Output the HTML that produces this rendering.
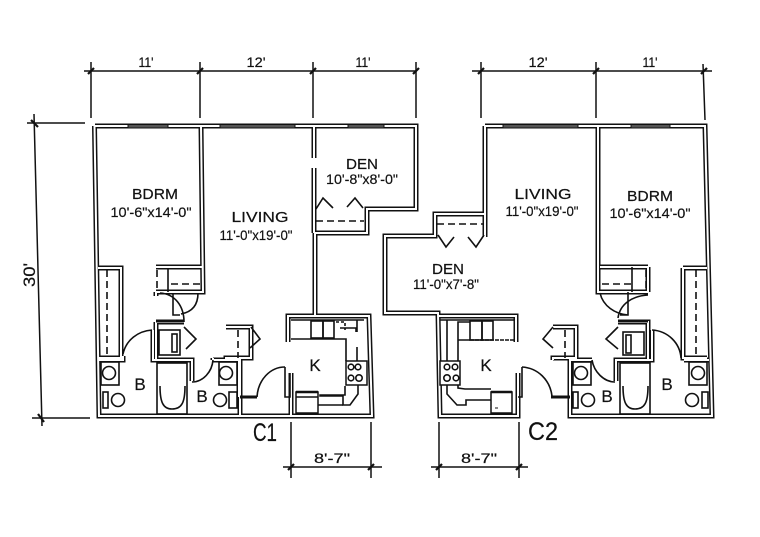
<!DOCTYPE html>
<html><head><meta charset="utf-8"><style>
html,body{margin:0;padding:0;background:#fff}
svg{display:block}
text{font-family:"Liberation Sans",sans-serif;fill:#111;text-anchor:middle;stroke:#111;stroke-width:.2}
.r{font-size:15px}
.d{font-size:14px}
.k{font-size:17px}
.c{font-size:25px}
.t{fill:none;stroke:#111;stroke-width:1.6}
.m{fill:none;stroke:#111;stroke-width:1.5}
.f{fill:#fff;stroke:#111;stroke-width:1.5}
.da{fill:none;stroke:#111;stroke-width:1.6;stroke-dasharray:7 4}
.w{fill:#555;stroke:#111;stroke-width:1}
</style></head><body>
<svg width="760" height="537" viewBox="0 0 760 537" xmlns="http://www.w3.org/2000/svg">
<rect width="760" height="537" fill="#fff"/>
<defs>
<path id="walls" d="M95 126H416V209H367V233H315V316M314 126V158M314 168V233M94.5 126L99 416H372L369 316H288V342M291 416V373M201 126L203 292H156M156 267H203M156 292V296M98 268H121V358H98M98 360H123V356M153 330V360H192V381M213 360H240V416M213 360V358M156 322H184M156 322V360M226 327H251V358H226V360M239 360V397
M485 126H705L712 416H570V360H592M485 126V237M485 214H435V236H385V313H438L440 416H518V373M438 316H516V342M598 126V292H648M600 267H648M648 267V292M683 268H707M683 268V358H707M684 360H709M652 330V360H616V381M618 322H648V360M553 327H576V358H553V360M570 360V397"/>
</defs>
<g fill="none">
<use href="#walls" stroke="#111" stroke-width="5"/>
<use href="#walls" stroke="#fff" stroke-width="2"/>
</g>
<!-- windows -->
<rect class="w" x="128" y="124.500" width="40" height="3.500"/>
<rect class="w" x="220" y="124.500" width="75" height="3.500"/>
<rect class="w" x="348" y="124.500" width="36" height="3.500"/>
<rect class="w" x="503" y="124.500" width="75" height="3.500"/>
<rect class="w" x="631" y="124.500" width="39" height="3.500"/>
<!-- dimensions -->
<g class="m">
<path d="M84 71H416M91 62V118M200 62V118M313 62V118M416 62V118"/>
<path d="M472 71H712M481 62V118M596 62V118M703 64L705 120"/>
<path d="M27 123H85M34 114L42 426M32 418H90"/>
<path d="M283 467H382M291 422V478M371 422V478"/>
<path d="M431 467H528M439 422V478M519 422V478"/>
</g>
<g stroke="#111" stroke-width="2.200" fill="none">
<path d="M88 74L94 68M197 74L203 68M310 74L316 68M413 74L419 68M478 74L484 68M593 74L599 68M701 74L707 68"/>
<path d="M31 120L38 127M38 414L44 422M288 470L294 464M368 470L374 464M436 470L442 464M516 470L522 464"/>
</g>
<!-- C1 left bath/closets -->
<path class="da" d="M107 270V358M157 270V290M171 284H200M238 330V358"/>
<path class="t" d="M168 268V292M173 294V315H180M123 354C126 340 138 331 152 330M160 293C175 294 184 306 184 322M198 293C198 305 192 312 181 314"/>
<path class="t" d="M192 382C203 382 212 372 213 360M184 327L196 339L186 349"/>
<path d="M156 321H184" stroke="#111" stroke-width="3"/>
<rect class="t" x="159" y="330" width="21" height="25"/>
<rect class="t" x="172" y="334" width="5" height="18"/>
<rect class="t" x="157" y="363" width="30" height="51"/>
<path class="t" d="M160 386C160 402 163 409 172 409C182 409 185 402 185 386"/>
<rect class="t" x="101" y="362" width="18" height="23"/>
<circle class="t" cx="109" cy="373" r="6.500"/>
<rect class="t" x="103" y="392" width="5" height="16"/>
<circle class="t" cx="118" cy="400" r="6.500"/>
<rect class="t" x="219" y="362" width="18" height="23"/>
<circle class="t" cx="226" cy="373" r="6.500"/>
<rect class="t" x="229" y="392" width="8" height="16"/>
<circle class="t" cx="220" cy="400" r="6.500"/>
<!-- C1 bifolds etc -->
<path class="t" d="M316 209L323 198L333 208M347 207L355 198L363 208"/>
<path class="da" d="M316 221H364"/>
<path class="t" d="M251 327L260 339L250 348"/>
<path d="M240 397H257" stroke="#111" stroke-width="3"/>
<path class="t" d="M285 367C270 367 258 380 257 397"/>
<path d="M285 367V397H290V373" stroke="#111" stroke-width="1.600" fill="none"/>
<!-- C1 kitchen -->
<path class="t" d="M291 320H364M291 339H346V361M357 347V361M358 385V394L350 405H343V396H320V395H345V386"/>
<rect class="t" x="311" y="321" width="12" height="17" stroke-width="2"/>
<rect class="t" x="323" y="321" width="11" height="17"/>
<path class="t" d="M336 322H345V330" stroke-dasharray="3 2"/>
<path class="t" d="M340 328H356V332M357 320V332"/>
<rect class="f" x="346" y="361" width="21" height="24"/>
<circle class="t" cx="351" cy="367" r="2.800"/><circle class="t" cx="358" cy="367" r="2.800"/>
<circle class="t" cx="351" cy="378" r="2.800"/><circle class="t" cx="359" cy="378" r="3.200"/>
<rect class="f" x="296" y="392" width="22" height="21"/>
<path d="M296 392H318" stroke="#111" stroke-width="2.500"/>
<path class="t" d="M318 405H343M296 397H318"/>
<!-- C2 den -->
<path class="t" d="M438 235L446 247L454 237M468 237L476 247L484 235"/>
<path class="da" d="M437 224H484"/>
<!-- C2 kitchen -->
<path class="t" d="M447 320V361M440 320H515M458 340V322H470M458 340H470"/>
<path class="t" d="M458 340V388L465 389H491" />
<path class="t" d="M447 385V394L457 405H466V400H491"/>
<path class="t" d="M470 340H514" stroke-dasharray="4 1"/>
<rect class="t" x="470" y="321" width="12" height="19" stroke-width="2"/>
<rect class="t" x="482" y="321" width="11" height="19" stroke-width="2"/>
<rect class="f" x="440" y="361" width="20" height="24"/>
<circle class="t" cx="447" cy="367" r="2.800"/><circle class="t" cx="455" cy="367" r="2.800"/>
<circle class="t" cx="447" cy="378" r="3.200"/><circle class="t" cx="456" cy="378" r="2.800"/>
<rect class="f" x="491" y="392" width="21" height="21"/>
<path d="M491 392H512" stroke="#111" stroke-width="2.500"/>
<path d="M495 408H498" stroke="#111" stroke-width="1"/>
<path class="t" d="M522 367C538 368 550 380 552 396"/>
<path d="M522 367V397H518" stroke="#111" stroke-width="1.600" fill="none"/>
<path d="M551 397H570" stroke="#111" stroke-width="3"/>
<path class="t" d="M553 327L543 339L553 348"/>
<path class="da" d="M565 330V358"/>
<!-- C2 bath -->
<path class="da" d="M696 270V358M646 270V292M602 284H632"/>
<path class="t" d="M632 267V292M628 292V315H620M600 293C603 306 615 314 628 315M648 295C632 296 620 304 618 318"/>
<path d="M618 321H648" stroke="#111" stroke-width="3"/>
<path class="t" d="M618 327L606 339L618 349M615 382C604 382 594 372 592 360M652 330C668 331 680 343 681 358"/>
<rect class="t" x="623" y="332" width="21" height="23"/>
<rect class="t" x="626" y="335" width="5" height="18"/>
<rect class="t" x="620" y="363" width="30" height="51"/>
<path class="t" d="M623 386C623 402 626 409 635 409C645 409 648 402 648 386"/>
<rect class="t" x="689" y="362" width="18" height="23"/>
<circle class="t" cx="698" cy="373" r="6.500"/>
<rect class="t" x="702" y="392" width="6" height="16"/>
<circle class="t" cx="692" cy="400" r="6.500"/>
<rect class="t" x="573" y="362" width="18" height="23"/>
<circle class="t" cx="581" cy="373" r="6.500"/>
<rect class="t" x="573" y="392" width="5" height="16"/>
<circle class="t" cx="588" cy="400" r="6.500"/>
<!-- labels -->
<text class="d" x="146" y="67" textLength="15" lengthAdjust="spacingAndGlyphs">11'</text>
<text class="d" x="256" y="67" textLength="19" lengthAdjust="spacingAndGlyphs">12'</text>
<text class="d" x="363" y="67" textLength="15" lengthAdjust="spacingAndGlyphs">11'</text>
<text class="d" x="538" y="67" textLength="19" lengthAdjust="spacingAndGlyphs">12'</text>
<text class="d" x="650" y="67" textLength="15" lengthAdjust="spacingAndGlyphs">11'</text>
<text class="k" transform="translate(35 275) rotate(-90)" textLength="24" lengthAdjust="spacingAndGlyphs">30'</text>
<text class="r" x="155" y="199" textLength="46" lengthAdjust="spacingAndGlyphs">BDRM</text>
<text class="d" x="151" y="217" textLength="81" lengthAdjust="spacingAndGlyphs">10'-6"x14'-0"</text>
<text class="r" x="260" y="222" textLength="57" lengthAdjust="spacingAndGlyphs">LIVING</text>
<text class="d" x="256" y="240" textLength="73" lengthAdjust="spacingAndGlyphs">11'-0"x19'-0"</text>
<text class="r" x="362" y="169" textLength="32" lengthAdjust="spacingAndGlyphs">DEN</text>
<text class="d" x="362" y="184" textLength="72" lengthAdjust="spacingAndGlyphs">10'-8"x8'-0"</text>
<text class="r" x="543" y="199" textLength="57" lengthAdjust="spacingAndGlyphs">LIVING</text>
<text class="d" x="542" y="216" textLength="73" lengthAdjust="spacingAndGlyphs">11'-0"x19'-0"</text>
<text class="r" x="650" y="201" textLength="46" lengthAdjust="spacingAndGlyphs">BDRM</text>
<text class="d" x="650" y="218" textLength="81" lengthAdjust="spacingAndGlyphs">10'-6"x14'-0"</text>
<text class="r" x="448" y="274" textLength="32" lengthAdjust="spacingAndGlyphs">DEN</text>
<text class="d" x="446" y="289" textLength="66" lengthAdjust="spacingAndGlyphs">11'-0"x7'-8"</text>
<text class="k" x="315" y="371">K</text>
<text class="k" x="486" y="371">K</text>
<text class="k" x="140" y="390">B</text>
<text class="k" x="202" y="402">B</text>
<text class="k" x="607" y="402">B</text>
<text class="k" x="667" y="390">B</text>
<text class="c" x="265" y="441" textLength="24" lengthAdjust="spacingAndGlyphs">C1</text>
<text class="c" x="543" y="440" textLength="30" lengthAdjust="spacingAndGlyphs">C2</text>
<text class="d" x="332" y="463" textLength="36" lengthAdjust="spacingAndGlyphs">8'-7"</text>
<text class="d" x="479" y="463" textLength="36" lengthAdjust="spacingAndGlyphs">8'-7"</text>
</svg>
</body></html>
